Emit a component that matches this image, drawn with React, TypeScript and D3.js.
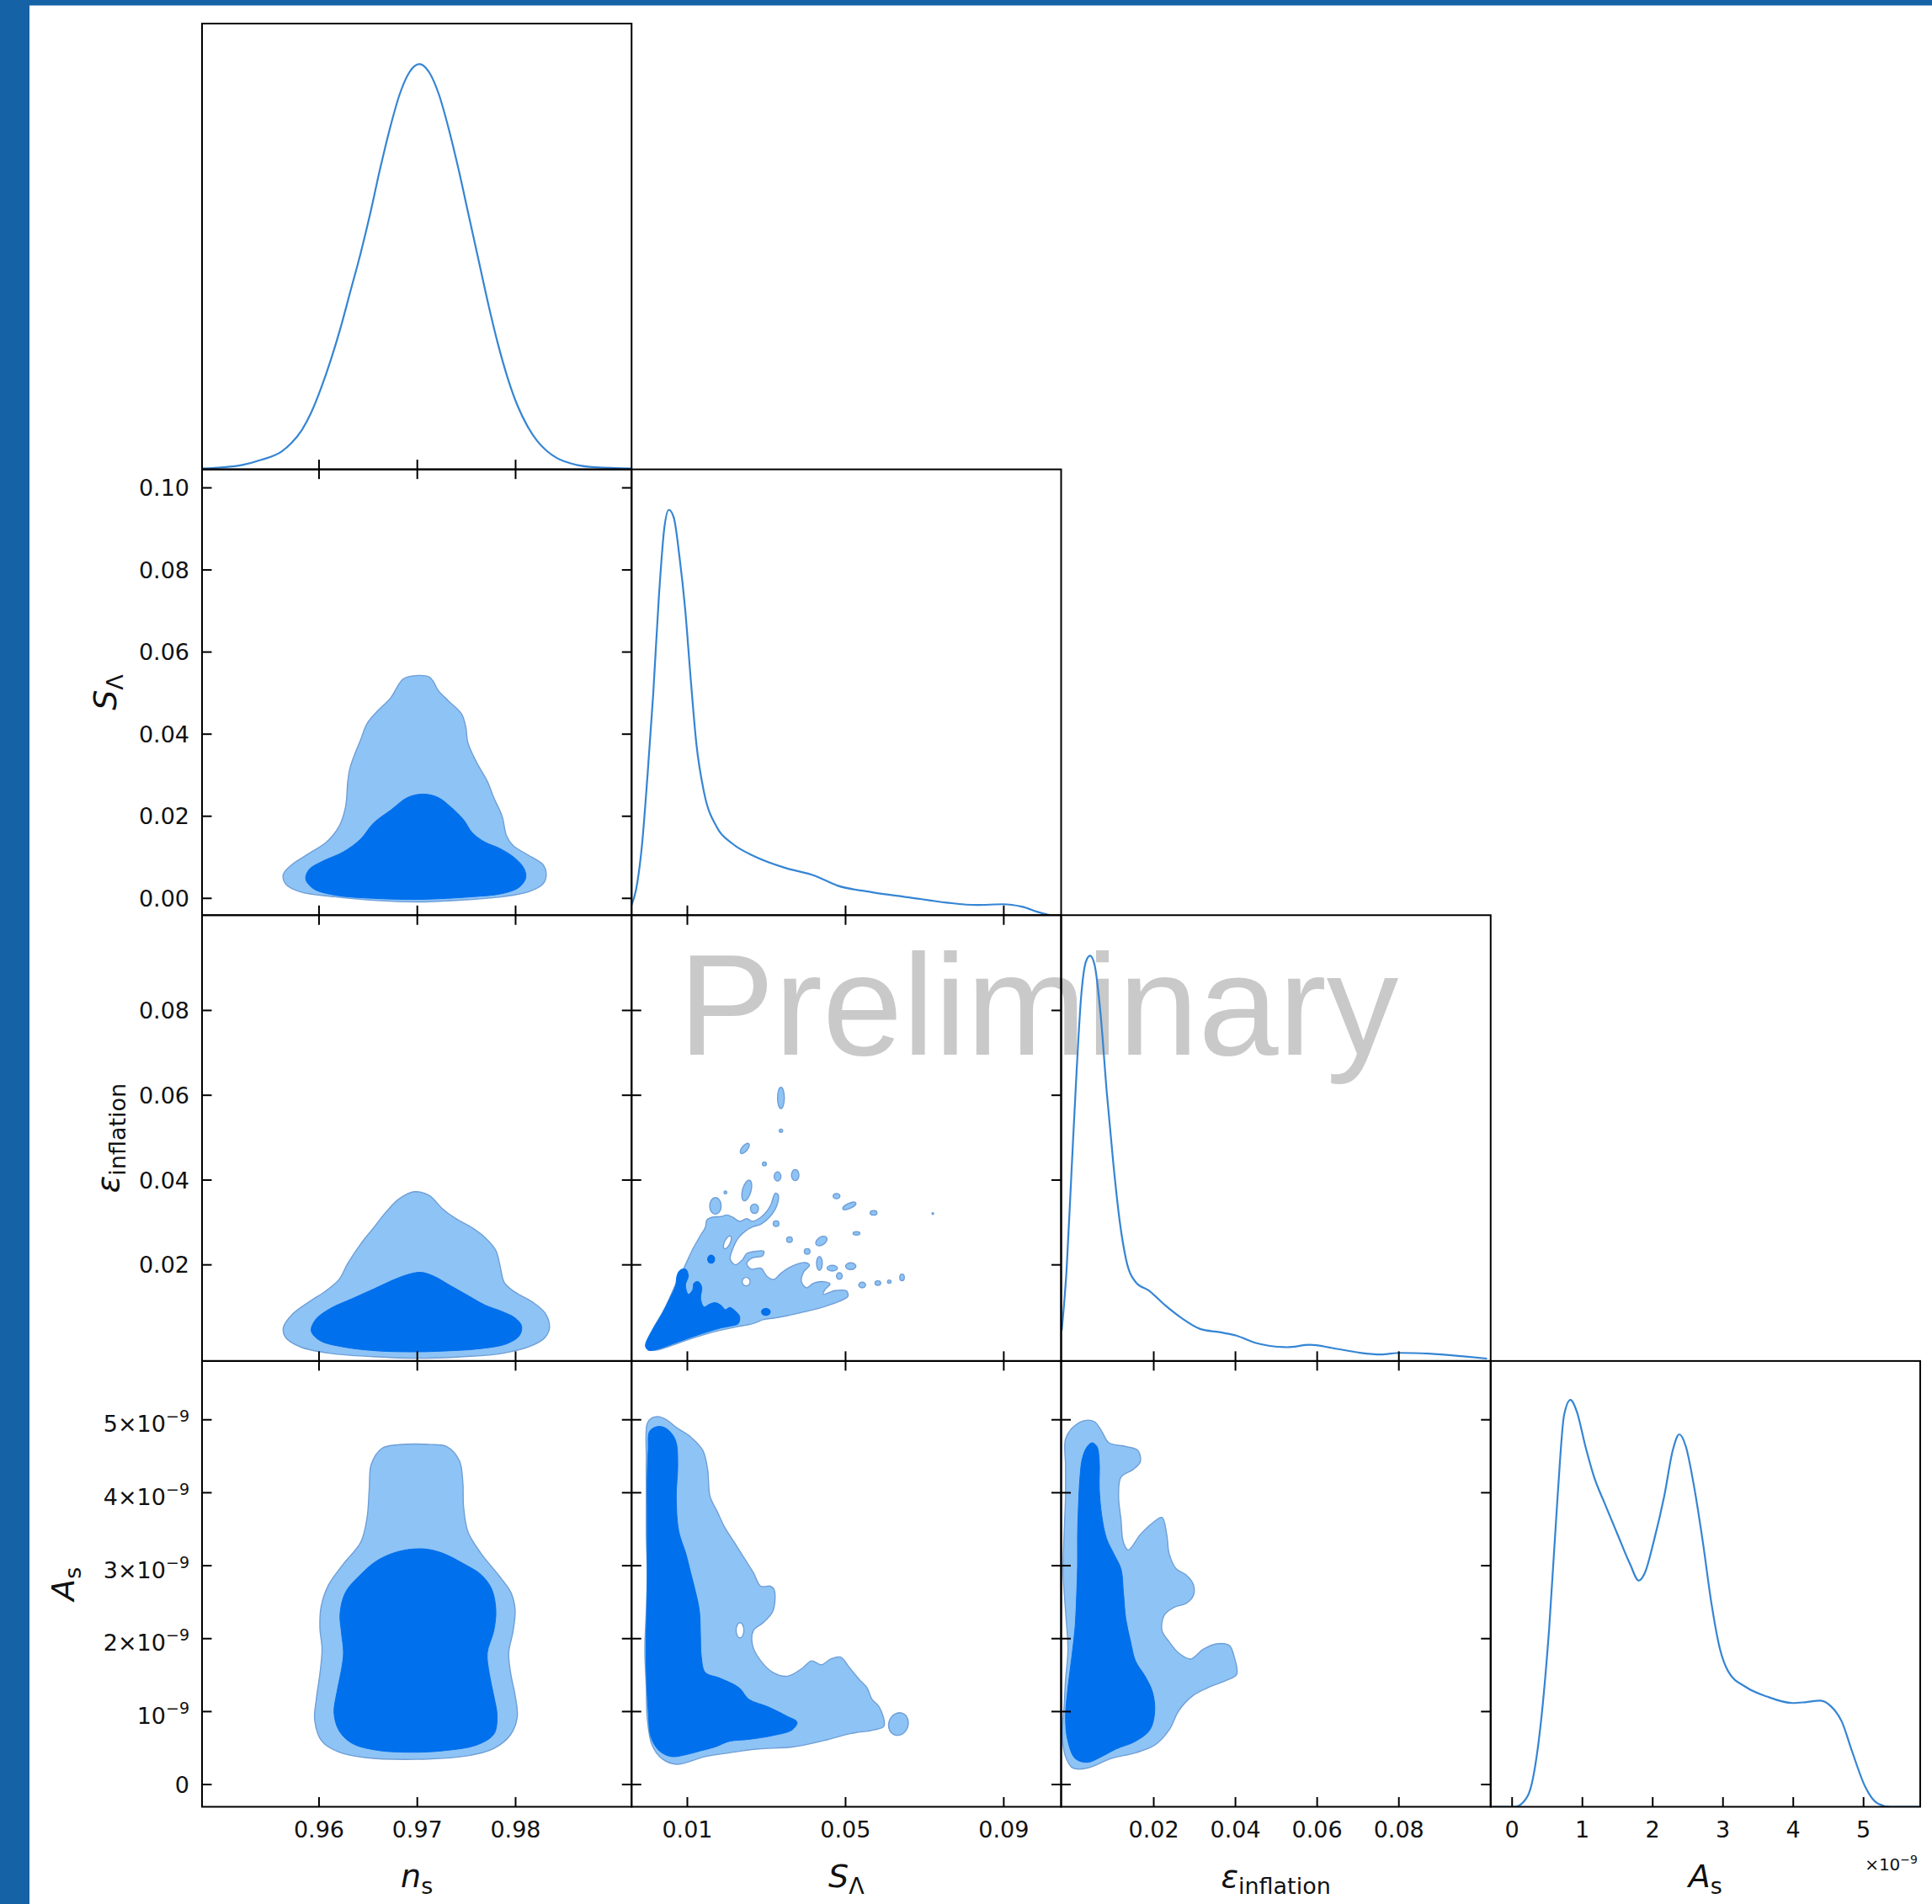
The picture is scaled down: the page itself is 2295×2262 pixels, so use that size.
import React from "react";
import * as d3 from "d3";

type Pt = [number, number];
type Blob = [number, number, number, number, number]; // cx, cy, rx, ry (data units), rotation (deg)

// ---------------- axes ----------------
const nsDomain: Pt = [0.9481, 0.9918];
const sLambdaDomain: Pt = [-0.0041, 0.1045];
const epsDomain: Pt = [-0.00267, 0.10247];
const asDomain: Pt = [-0.305, 5.806]; // in units of 1e-9
const densityDomain: Pt = [0, 1.1];

const nsTicks = [0.96, 0.97, 0.98];
const nsTickLabels = ["0.96", "0.97", "0.98"];
const sLambdaXTicks = [0.01, 0.05, 0.09];
const sLambdaXTickLabels = ["0.01", "0.05", "0.09"];
const sLambdaYTicks = [0, 0.02, 0.04, 0.06, 0.08, 0.1];
const sLambdaYTickLabels = ["0.00", "0.02", "0.04", "0.06", "0.08", "0.10"];
const epsTicks = [0.02, 0.04, 0.06, 0.08];
const epsTickLabels = ["0.02", "0.04", "0.06", "0.08"];
const asTicks = [0, 1, 2, 3, 4, 5];
const asXTickLabels = ["0", "1", "2", "3", "4", "5"];
const asYTickLabels = [
  { text: "0", exp: "" },
  { text: "10", exp: "\u22129" },
  { text: "2\u00d710", exp: "\u22129" },
  { text: "3\u00d710", exp: "\u22129" },
  { text: "4\u00d710", exp: "\u22129" },
  { text: "5\u00d710", exp: "\u22129" },
];
const paramLabels = [
  { main: "n", sub: "s" },
  { main: "S", sub: "\u039b" },
  { main: "\u03b5", sub: "inflation" },
  { main: "A", sub: "s" },
];
const watermark = "Preliminary";
const offsetText = { text: "\u00d710", exp: "\u22129" };

// ---------------- 1D marginals (x, normalised density) ----------------
const nsPdf: Pt[] = [
  [0.9481, 0.002], [0.9502, 0.005], [0.9522, 0.011], [0.9542, 0.024], [0.9562, 0.044],
  [0.9572, 0.065], [0.9582, 0.095], [0.9592, 0.14], [0.9602, 0.2], [0.9612, 0.27],
  [0.9622, 0.35], [0.9632, 0.44], [0.9642, 0.53], [0.9652, 0.63], [0.9662, 0.74],
  [0.9672, 0.84], [0.9682, 0.925], [0.9692, 0.98], [0.9702, 1.0], [0.9712, 0.98],
  [0.9722, 0.925], [0.9732, 0.84], [0.9742, 0.74], [0.9752, 0.63], [0.9762, 0.52],
  [0.9772, 0.41], [0.9782, 0.31], [0.9792, 0.225], [0.9802, 0.157], [0.9812, 0.107],
  [0.9822, 0.07], [0.9832, 0.045], [0.9842, 0.028], [0.9862, 0.011], [0.9882, 0.005],
  [0.9918, 0.002],
];
const sLambdaPdf: Pt[] = [
  [-0.00409, 0.025], [-0.00293, 0.065], [-0.00151, 0.169], [-0.00008, 0.344], [0.00135, 0.543],
  [0.00278, 0.782], [0.0042, 0.957], [0.00533, 1.0], [0.00657, 0.981], [0.008, 0.885],
  [0.00942, 0.758], [0.01085, 0.583], [0.01228, 0.423], [0.0142, 0.304], [0.01752, 0.216],
  [0.02132, 0.177], [0.02703, 0.145], [0.03464, 0.117], [0.04227, 0.097], [0.04795, 0.073],
  [0.05652, 0.057], [0.06605, 0.044], [0.07555, 0.031], [0.08316, 0.025], [0.08983, 0.027],
  [0.09458, 0.021], [0.09933, 0.006], [0.10219, 0.0], [0.1048, 0.0],
];
const epsPdf: Pt[] = [
  [-0.00252, 0.075], [-0.00133, 0.226], [-0.00015, 0.463], [0.00104, 0.7], [0.00222, 0.898],
  [0.00339, 0.985], [0.00442, 1.0], [0.00553, 0.977], [0.00696, 0.859], [0.00852, 0.661],
  [0.01011, 0.487], [0.01168, 0.344], [0.01326, 0.249], [0.01563, 0.194], [0.01878, 0.174],
  [0.02272, 0.138], [0.02666, 0.107], [0.03139, 0.079], [0.03613, 0.071], [0.04007, 0.063],
  [0.04481, 0.045], [0.05268, 0.034], [0.0582, 0.04], [0.06373, 0.032], [0.07003, 0.021],
  [0.07555, 0.016], [0.08029, 0.02], [0.08738, 0.018], [0.09527, 0.012], [0.10158, 0.006],
];
const asPdf: Pt[] = [
  [-0.318, 0.0], [0.04, 0.0], [0.162, 0.012], [0.283, 0.059], [0.405, 0.201], [0.526, 0.437],
  [0.648, 0.768], [0.739, 0.966], [0.83, 1.004], [0.921, 0.975], [1.042, 0.89], [1.164, 0.815],
  [1.316, 0.749], [1.498, 0.673], [1.68, 0.598], [1.802, 0.558], [1.893, 0.579], [2.014, 0.654],
  [2.166, 0.768], [2.288, 0.881], [2.379, 0.919], [2.47, 0.89], [2.592, 0.787], [2.713, 0.654],
  [2.835, 0.503], [2.956, 0.39], [3.078, 0.333], [3.321, 0.296], [3.625, 0.272], [3.989, 0.256],
  [4.171, 0.258], [4.384, 0.262], [4.536, 0.248], [4.688, 0.211], [4.84, 0.135], [5.022, 0.05],
  [5.204, 0.008], [5.386, 0.0], [5.811, 0.0],
];

// ---------------- 2D contours (68% and 95%) ----------------
const nsSL95: Pt[] = [
  [0.9686, 0.05351], [0.97012, 0.05431], [0.97122, 0.0539], [0.97166, 0.05274], [0.97209, 0.05078],
  [0.97319, 0.04804], [0.9745, 0.04492], [0.97493, 0.04179], [0.97515, 0.03789], [0.97602, 0.0332],
  [0.97712, 0.02852], [0.97777, 0.0246], [0.97864, 0.01992], [0.97908, 0.01523], [0.97974, 0.01288],
  [0.98127, 0.01056], [0.98279, 0.00821], [0.98312, 0.00586], [0.98279, 0.00351], [0.98127, 0.00155],
  [0.97864, 0.00039], [0.97471, -0.00039], [0.97012, -0.00088], [0.96555, -0.00049], [0.96162, 0.00039],
  [0.95812, 0.00155], [0.95659, 0.00351], [0.95637, 0.00586], [0.95724, 0.00821], [0.95899, 0.01094],
  [0.96074, 0.01368], [0.96205, 0.01757], [0.9627, 0.02227], [0.96293, 0.02852], [0.96314, 0.03164],
  [0.96358, 0.03477], [0.96424, 0.03867], [0.96489, 0.04259], [0.96598, 0.04571], [0.96729, 0.04884],
];
const nsSL68: Pt[] = [
  [0.96904, 0.0246], [0.97057, 0.0254], [0.97209, 0.0246], [0.9734, 0.02227], [0.97471, 0.01914],
  [0.97558, 0.01601], [0.97689, 0.01368], [0.97843, 0.01211], [0.97995, 0.00976], [0.98082, 0.00741],
  [0.98104, 0.00508], [0.98038, 0.00274], [0.97864, 0.00116], [0.97558, 0.00039], [0.97035, -0.00024],
  [0.96555, 0.0], [0.96162, 0.00078], [0.95943, 0.00235], [0.95865, 0.0047], [0.95899, 0.00702],
  [0.96031, 0.00898], [0.96249, 0.01133], [0.96424, 0.01445], [0.96555, 0.01835], [0.96729, 0.02148],
];
const nsEps95: Pt[] = [
  [0.96816, 0.03558], [0.96969, 0.03725], [0.97122, 0.03634], [0.97253, 0.0333], [0.97384, 0.03102],
  [0.97558, 0.02873], [0.97689, 0.02645], [0.97799, 0.02341], [0.97843, 0.01962], [0.97886, 0.01581],
  [0.97995, 0.01355], [0.9817, 0.01127], [0.98301, 0.00861], [0.98345, 0.00519], [0.98301, 0.00291],
  [0.9817, 0.001], [0.97864, -0.00088], [0.97471, -0.00166], [0.96991, -0.00203], [0.96555, -0.00166],
  [0.96118, -0.00088], [0.95812, 0.00063], [0.95659, 0.00291], [0.95637, 0.00519], [0.95724, 0.00823],
  [0.95899, 0.01127], [0.96074, 0.01393], [0.96205, 0.01659], [0.96293, 0.02038], [0.96424, 0.02494],
  [0.96555, 0.02873], [0.96685, 0.03253],
];
const nsEps68: Pt[] = [
  [0.96904, 0.01772], [0.97035, 0.01825], [0.97166, 0.01734], [0.9734, 0.01506], [0.97515, 0.01277],
  [0.97689, 0.01051], [0.97864, 0.00898], [0.97995, 0.00748], [0.98061, 0.00557], [0.98038, 0.00329],
  [0.97908, 0.00138], [0.97646, 0.00025], [0.97297, -0.00029], [0.96991, -0.0005], [0.96598, -0.00029],
  [0.96249, 0.00063], [0.96009, 0.00216], [0.95921, 0.00442], [0.95965, 0.00708], [0.96118, 0.00974],
  [0.96336, 0.01202], [0.96555, 0.0143], [0.96772, 0.01659],
];
const nsAs95: Pt[] = [
  [0.96642, 4.61], [0.96816, 4.659], [0.97166, 4.659], [0.97297, 4.634], [0.97428, 4.44],
  [0.97463, 4.147], [0.97471, 3.806], [0.97515, 3.465], [0.97646, 3.173], [0.97821, 2.88],
  [0.97951, 2.636], [0.97995, 2.393], [0.97974, 2.1], [0.9793, 1.808], [0.97951, 1.516],
  [0.97995, 1.223], [0.98017, 0.931], [0.97951, 0.687], [0.97777, 0.492], [0.97515, 0.395],
  [0.96991, 0.346], [0.96467, 0.37], [0.96205, 0.443], [0.96031, 0.59], [0.95956, 0.882],
  [0.95973, 1.174], [0.96009, 1.516], [0.96031, 1.857], [0.96009, 2.149], [0.96022, 2.442],
  [0.96096, 2.734], [0.96249, 3.026], [0.96424, 3.319], [0.96489, 3.66], [0.96511, 4.05],
  [0.96532, 4.391],
];
const nsAs68: Pt[] = [
  [0.96816, 3.197], [0.97057, 3.231], [0.97253, 3.173], [0.97471, 3.026], [0.97646, 2.88],
  [0.97755, 2.685], [0.97799, 2.393], [0.97777, 2.1], [0.97712, 1.808], [0.97733, 1.516],
  [0.97777, 1.223], [0.97812, 0.931], [0.97777, 0.687], [0.97602, 0.541], [0.97297, 0.468],
  [0.96991, 0.443], [0.96598, 0.468], [0.96336, 0.565], [0.96205, 0.736], [0.96153, 0.98],
  [0.96183, 1.272], [0.96227, 1.564], [0.96249, 1.808], [0.96227, 2.1], [0.96214, 2.344],
  [0.9627, 2.636], [0.96424, 2.88], [0.96598, 3.075],
];
const slEps95: Pt[] = [
  [-0.00055, 0.00083], [0.00125, 0.00479], [0.00413, 0.00943], [0.00737, 0.01604], [0.00917, 0.01935],
  [0.01133, 0.02365], [0.01313, 0.02663], [0.01457, 0.02894], [0.01493, 0.03059], [0.01638, 0.03126],
  [0.01854, 0.03139], [0.01998, 0.03178], [0.02142, 0.03126], [0.02322, 0.03026], [0.02502, 0.03093],
  [0.02646, 0.03026], [0.02862, 0.03126], [0.03006, 0.03258], [0.03114, 0.03423], [0.03222, 0.03688],
  [0.03294, 0.03655], [0.03258, 0.0339], [0.03078, 0.03126], [0.02862, 0.0296], [0.02646, 0.02894],
  [0.02466, 0.02795], [0.02286, 0.0263], [0.02156, 0.02398], [0.02084, 0.02133], [0.02214, 0.02001],
  [0.02394, 0.0212], [0.02502, 0.02266], [0.02718, 0.02319], [0.02934, 0.02319], [0.02898, 0.02213],
  [0.02646, 0.02167], [0.02502, 0.02034], [0.0261, 0.01902], [0.02862, 0.01922], [0.03006, 0.01737],
  [0.03186, 0.01657], [0.03367, 0.01803], [0.03547, 0.01922], [0.03727, 0.02001], [0.03979, 0.02054],
  [0.04087, 0.01988], [0.03943, 0.01836], [0.03885, 0.01604], [0.04015, 0.01459], [0.04195, 0.01571],
  [0.04447, 0.01604], [0.04606, 0.01551], [0.04483, 0.01419], [0.04433, 0.01307], [0.04735, 0.01393],
  [0.05023, 0.01386], [0.05059, 0.0126], [0.04843, 0.01141], [0.04447, 0.01009], [0.03943, 0.00889],
  [0.03511, 0.00797], [0.03186, 0.00744], [0.02934, 0.00711], [0.02646, 0.00612], [0.02214, 0.00533],
  [0.01638, 0.00414], [0.01061, 0.00248], [0.00557, 0.00083], [0.00125, -0.00016],
];
const slEps68: Pt[] = [
  [-0.00055, 0.00083], [0.00089, 0.00413], [0.00341, 0.00811], [0.00557, 0.01207], [0.00701, 0.01505],
  [0.00737, 0.01737], [0.00809, 0.01869], [0.00953, 0.01902], [0.01025, 0.01737], [0.00953, 0.01525],
  [0.01025, 0.01307], [0.01133, 0.01406], [0.01169, 0.01571], [0.01277, 0.01604], [0.01364, 0.01472],
  [0.01335, 0.01207], [0.01421, 0.01009], [0.01566, 0.01075], [0.0171, 0.01108], [0.01854, 0.01042],
  [0.01962, 0.00943], [0.0207, 0.00996], [0.02214, 0.0091], [0.02322, 0.00778], [0.02286, 0.00612],
  [0.02106, 0.00559], [0.01854, 0.00513], [0.01493, 0.00414], [0.01061, 0.00281], [0.00629, 0.00136],
  [0.00269, 0.00017], [0.00017, -0.00016],
];
const slEpsIslands95: Blob[] = [
  [0.03366, 0.05937, 0.00086, 0.00251, 0], [0.03366, 0.05163, 0.00043, 0.0004, 0],
  [0.02452, 0.04746, 0.00158, 0.00066, -50], [0.02948, 0.04382, 0.0005, 0.00046, 0],
  [0.0328, 0.04085, 0.00086, 0.00106, 0], [0.03727, 0.04118, 0.00094, 0.00132, 0],
  [0.01962, 0.03708, 0.00036, 0.00033, 0], [0.02502, 0.03754, 0.00108, 0.00251, 15],
  [0.0171, 0.0339, 0.00144, 0.00198, 0], [0.02697, 0.03324, 0.00101, 0.00112, 0],
  [0.04771, 0.03622, 0.00086, 0.0006, 0], [0.05095, 0.0339, 0.0018, 0.0006, -25],
  [0.05708, 0.03225, 0.00086, 0.00053, 0], [0.07206, 0.03211, 0.00022, 0.0002, 0],
  [0.03244, 0.02973, 0.00072, 0.00066, 0], [0.05276, 0.02742, 0.00086, 0.0004, 0],
  [0.03582, 0.02596, 0.00072, 0.00066, 0], [0.04389, 0.02563, 0.00158, 0.00093, -35],
  [0.04029, 0.02318, 0.00072, 0.00066, 0], [0.04339, 0.02034, 0.00072, 0.00165, 0],
  [0.04663, 0.01922, 0.0013, 0.00066, 0], [0.04843, 0.01737, 0.00072, 0.00079, 0],
  [0.05131, 0.01968, 0.0013, 0.00079, 0], [0.0542, 0.01525, 0.00086, 0.00066, 0],
  [0.05816, 0.01571, 0.00072, 0.00053, 0], [0.06104, 0.01604, 0.00043, 0.0004, 0],
  [0.06428, 0.01704, 0.00058, 0.00079, 0],
];
const slEpsIslands68: Blob[] = [
  [0.01602, 0.02133, 0.00086, 0.00093, 0], [0.02985, 0.0089, 0.00108, 0.00079, 0],
];
const slEpsHoles: Blob[] = [
  [0.02012, 0.0253, 0.00072, 0.00165, 25], [0.02487, 0.01604, 0.001, 0.001, 0],
];
const slAs95: Pt[] = [
  [-0.00014, 4.948], [0.00108, 5.026], [0.00292, 5.042], [0.00475, 5.0], [0.00719, 4.895],
  [0.01085, 4.764], [0.01391, 4.58], [0.01513, 4.318], [0.01574, 3.951], [0.01757, 3.741],
  [0.0194, 3.531], [0.02185, 3.321], [0.02429, 3.111], [0.02673, 2.901], [0.02856, 2.718],
  [0.03101, 2.718], [0.03198, 2.665], [0.03162, 2.377], [0.02918, 2.219], [0.02673, 2.114],
  [0.02649, 1.905], [0.02856, 1.695], [0.03162, 1.537], [0.03528, 1.485], [0.03895, 1.59],
  [0.04139, 1.695], [0.04383, 1.642], [0.04627, 1.721], [0.04872, 1.747], [0.05116, 1.59],
  [0.0536, 1.432], [0.05543, 1.327], [0.05666, 1.17], [0.05849, 1.065], [0.05971, 0.803],
  [0.05727, 0.75], [0.05116, 0.698], [0.04383, 0.593], [0.0365, 0.514], [0.02795, 0.488],
  [0.02063, 0.435], [0.01452, 0.383], [0.00719, 0.278], [0.00353, 0.357], [0.00108, 0.54],
  [-0.00014, 0.908], [-0.00038, 1.327], [-0.00075, 1.852], [-0.00038, 2.377], [-0.00014, 2.901],
  [-0.00038, 3.426], [-0.00038, 3.951], [-0.00038, 4.475],
];
const slAs68: Pt[] = [
  [0.00047, 4.843], [0.00231, 4.906], [0.00414, 4.895], [0.00597, 4.816], [0.00719, 4.685],
  [0.00756, 4.37], [0.00719, 3.951], [0.0078, 3.478], [0.00963, 3.164], [0.01085, 2.901],
  [0.01208, 2.639], [0.01305, 2.377], [0.0133, 2.062], [0.01354, 1.747], [0.01452, 1.537],
  [0.01818, 1.459], [0.02307, 1.327], [0.02551, 1.17], [0.0304, 1.065], [0.03528, 0.934],
  [0.03773, 0.855], [0.0365, 0.75], [0.03162, 0.672], [0.02551, 0.619], [0.02063, 0.593],
  [0.01696, 0.514], [0.0133, 0.462], [0.00963, 0.409], [0.00597, 0.383], [0.00292, 0.462],
  [0.00084, 0.645], [0.00011, 1.013], [-0.00038, 1.59], [-0.00038, 2.114], [-0.00014, 2.639],
  [-0.00014, 3.164], [-0.00014, 3.688], [-0.00014, 4.213], [0.00011, 4.58],
];
const slAsIslands95: Blob[] = [[0.06337, 0.829, 0.00244, 0.157, 20]];
const slAsHoles: Blob[] = [[0.02331, 2.114, 0.00098, 0.105, 0]];
const epsAs95: Pt[] = [
  [-0.00159, 4.738], [0.00018, 4.895], [0.00313, 4.99], [0.00549, 4.974], [0.00726, 4.843],
  [0.00903, 4.685], [0.01316, 4.633], [0.01611, 4.58], [0.0167, 4.423], [0.01493, 4.318],
  [0.01198, 4.213], [0.01139, 3.951], [0.01198, 3.636], [0.01257, 3.321], [0.01375, 3.216],
  [0.0167, 3.426], [0.01965, 3.583], [0.02201, 3.662], [0.02319, 3.426], [0.02378, 3.164],
  [0.02555, 2.954], [0.02791, 2.875], [0.02968, 2.744], [0.02968, 2.587], [0.02791, 2.482],
  [0.02496, 2.429], [0.0226, 2.324], [0.02201, 2.114], [0.02378, 1.957], [0.02614, 1.8],
  [0.02909, 1.721], [0.03204, 1.852], [0.03558, 1.931], [0.03853, 1.905], [0.03971, 1.747],
  [0.0403, 1.511], [0.03794, 1.432], [0.03322, 1.327], [0.02968, 1.222], [0.02614, 1.013],
  [0.02378, 0.75], [0.02024, 0.54], [0.01552, 0.435], [0.00962, 0.357], [0.00372, 0.226],
  [0.00018, 0.226], [-0.00159, 0.383], [-0.00242, 0.698], [-0.00195, 1.065], [-0.00159, 1.432],
  [-0.001, 1.852], [-0.00159, 2.377], [-0.00218, 2.901], [-0.00195, 3.426], [-0.00159, 3.951],
  [-0.00159, 4.37],
];
const epsAs68: Pt[] = [
  [0.00254, 4.475], [0.00372, 4.633], [0.0049, 4.685], [0.00608, 4.633], [0.00667, 4.423],
  [0.00667, 4.056], [0.00726, 3.688], [0.00844, 3.374], [0.01021, 3.164], [0.01198, 2.954],
  [0.01257, 2.639], [0.01316, 2.272], [0.01434, 1.957], [0.01552, 1.695], [0.01788, 1.485],
  [0.01965, 1.275], [0.02024, 1.013], [0.01906, 0.75], [0.01552, 0.593], [0.0108, 0.488],
  [0.00726, 0.383], [0.00372, 0.304], [0.00077, 0.357], [-0.001, 0.593], [-0.00159, 0.908],
  [-0.001, 1.327], [-0.00006, 1.747], [0.00077, 2.167], [0.00112, 2.587], [0.00136, 3.006],
  [0.00136, 3.426], [0.00159, 3.846], [0.00195, 4.213],
];

// ---------------- layout & style ----------------
const W = 2295;
const H = 2262;
const gridLeft = 240;
const gridRight = 2281;
const gridTop = 28;
const gridBottom = 2146.5;
const N = 4;
const cellW = (gridRight - gridLeft) / N;
const cellH = (gridBottom - gridTop) / N;
const FONT = "'DejaVu Sans', sans-serif";
const COL68 = "#0070ec";
const COL95 = "#8ec3f6";
const EDGE95 = "#6f9fd6";
const LINE1D = "#3585d4";
const TICK = 11.5;

const domains = [nsDomain, sLambdaDomain, epsDomain, asDomain];
const xTickSets = [nsTicks, sLambdaXTicks, epsTicks, asTicks];
const xTickLabelSets = [nsTickLabels, sLambdaXTickLabels, epsTickLabels, asXTickLabels];
const yTickSets = [nsTicks, sLambdaYTicks, epsTicks, asTicks];
const yTickLabelSets: any[] = [nsTickLabels, sLambdaYTickLabels, epsTickLabels, asYTickLabels];
const pdfs = [nsPdf, sLambdaPdf, epsPdf, asPdf];

const contourSets: Record<string, { c95: Pt[]; c68: Pt[]; isl95?: Blob[]; isl68?: Blob[]; holes?: Blob[] }> = {
  "1-0": { c95: nsSL95, c68: nsSL68 },
  "2-0": { c95: nsEps95, c68: nsEps68 },
  "3-0": { c95: nsAs95, c68: nsAs68 },
  "2-1": { c95: slEps95, c68: slEps68, isl95: slEpsIslands95, isl68: slEpsIslands68, holes: slEpsHoles },
  "3-1": { c95: slAs95, c68: slAs68, isl95: slAsIslands95, holes: slAsHoles },
  "3-2": { c95: epsAs95, c68: epsAs68 },
};

const xScaleFor = (c: number) =>
  d3.scaleLinear().domain(domains[c]).range([gridLeft + c * cellW, gridLeft + (c + 1) * cellW]);
const yScaleFor = (r: number) =>
  d3.scaleLinear().domain(domains[r]).range([gridTop + (r + 1) * cellH, gridTop + r * cellH]);
const densityScaleFor = (r: number) =>
  d3.scaleLinear().domain(densityDomain).range([gridTop + (r + 1) * cellH, gridTop + r * cellH]);

function Blobs({ blobs, xs, ys, fill, stroke }: any) {
  return (
    <g>
      {blobs.map((b: Blob, i: number) => {
        const cx = xs(b[0]);
        const cy = ys(b[1]);
        const rx = Math.abs(xs(b[0] + b[2]) - cx);
        const ry = Math.abs(ys(b[1] + b[3]) - cy);
        return (
          <ellipse key={i} cx={cx} cy={cy} rx={rx} ry={ry} transform={`rotate(${b[4]},${cx},${cy})`}
            fill={fill} stroke={stroke} strokeWidth={1.4} />
        );
      })}
    </g>
  );
}

function Panel2D({ r, c }: { r: number; c: number }) {
  const xs = xScaleFor(c);
  const ys = yScaleFor(r);
  const set = contourSets[`${r}-${c}`];
  const line = d3
    .line<Pt>()
    .x((d) => xs(d[0]))
    .y((d) => ys(d[1]))
    .curve(d3.curveCatmullRomClosed.alpha(0.5));
  return (
    <g clipPath={`url(#clip-${r}-${c})`}>
      <path d={line(set.c95) || ""} fill={COL95} stroke={EDGE95} strokeWidth={1.4} />
      {set.isl95 && <Blobs blobs={set.isl95} xs={xs} ys={ys} fill={COL95} stroke={EDGE95} />}
      {set.holes && <Blobs blobs={set.holes} xs={xs} ys={ys} fill="#ffffff" stroke={EDGE95} />}
      <path d={line(set.c68) || ""} fill={COL68} stroke={COL68} strokeWidth={1} />
      {set.isl68 && <Blobs blobs={set.isl68} xs={xs} ys={ys} fill={COL68} stroke={COL68} />}
    </g>
  );
}

function Panel1D({ i }: { i: number }) {
  const xs = xScaleFor(i);
  const ys = densityScaleFor(i);
  const line = d3
    .line<Pt>()
    .x((d) => xs(d[0]))
    .y((d) => ys(d[1]))
    .curve(d3.curveMonotoneX);
  return (
    <g clipPath={`url(#clip-${i}-${i})`}>
      <path d={line(pdfs[i]) || ""} fill="none" stroke={LINE1D} strokeWidth={2.2} />
    </g>
  );
}

function Frame({ r, c }: { r: number; c: number }) {
  const xs = xScaleFor(c);
  const ys = yScaleFor(r);
  const x0 = gridLeft + c * cellW;
  const x1 = x0 + cellW;
  const y0 = gridTop + r * cellH;
  const y1 = y0 + cellH;
  const ticks: JSX.Element[] = [];
  xTickSets[c].forEach((t, k) => {
    const x = xs(t);
    ticks.push(<line key={`b${k}`} x1={x} x2={x} y1={y1} y2={y1 - TICK} />);
    if (r !== c) ticks.push(<line key={`t${k}`} x1={x} x2={x} y1={y0} y2={y0 + TICK} />);
  });
  if (r !== c) {
    yTickSets[r].forEach((t, k) => {
      const y = ys(t);
      ticks.push(<line key={`l${k}`} x1={x0} x2={x0 + TICK} y1={y} y2={y} />);
      ticks.push(<line key={`r${k}`} x1={x1} x2={x1 - TICK} y1={y} y2={y} />);
    });
  }
  return (
    <g stroke="#000" strokeWidth={2}>
      {ticks}
      <rect x={x0} y={y0} width={cellW} height={cellH} fill="none" />
    </g>
  );
}

function AxisLabel({ i, x, y, rotate }: { i: number; x: number; y: number; rotate?: boolean }) {
  const lab = paramLabels[i];
  return (
    <text
      transform={rotate ? `translate(${x},${y}) rotate(-90)` : `translate(${x},${y})`}
      textAnchor="middle"
      fontFamily={FONT}
      fontSize={38}
      fill="#111"
    >
      <tspan fontStyle="italic">{lab.main}</tspan>
      <tspan fontSize={27} dy={8}>{lab.sub}</tspan>
    </text>
  );
}

export default function App() {
  const cells: { r: number; c: number }[] = [];
  for (let r = 0; r < N; r++) for (let c = 0; c <= r; c++) cells.push({ r, c });

  const xLabelX = [0, 1, 2, 3].map((c) => gridLeft + (c + 0.5) * cellW);
  const yLabelY = [0, 1, 2, 3].map((r) => gridTop + (r + 0.5) * cellH);
  const yLabelX = [0, 138, 141, 88];

  return (
    <svg
      width={W}
      height={H}
      viewBox={`0 0 ${W} ${H}`}
      style={{ position: "absolute", left: 0, top: 0, display: "block" }}
    >
      <defs>
        {cells.map(({ r, c }) => (
          <clipPath id={`clip-${r}-${c}`} key={`${r}-${c}`}>
            <rect x={gridLeft + c * cellW} y={gridTop + r * cellH} width={cellW} height={cellH} />
          </clipPath>
        ))}
      </defs>
      <rect x={0} y={0} width={W} height={H} fill="#1662a6" />
      <rect x={35} y={6.5} width={W - 35} height={H - 6.5} fill="#ffffff" />

      <text x={806} y={1253} fontFamily="'Liberation Sans', Arial, sans-serif" fontSize={171} fill="#c9c9c9">
        {watermark}
      </text>

      {cells.map(({ r, c }) =>
        r === c ? <Panel1D key={`p${r}${c}`} i={r} /> : <Panel2D key={`p${r}${c}`} r={r} c={c} />
      )}
      {cells.map(({ r, c }) => (
        <Frame key={`f${r}${c}`} r={r} c={c} />
      ))}

      {/* x tick labels (bottom row) */}
      {[0, 1, 2, 3].map((c) => {
        const xs = xScaleFor(c);
        return xTickSets[c].map((t, k) => (
          <text key={`xl${c}-${k}`} x={xs(t)} y={gridBottom + 36.5} textAnchor="middle" fontFamily={FONT}
            fontSize={27} fill="#111">
            {xTickLabelSets[c][k]}
          </text>
        ));
      })}
      {/* y tick labels (first column) */}
      {[1, 2, 3].map((r) => {
        const ys = yScaleFor(r);
        return yTickSets[r].map((t, k) => {
          const lab = yTickLabelSets[r][k];
          if (typeof lab === "string") {
            return (
              <text key={`yl${r}-${k}`} x={gridLeft - 15} y={ys(t)} dy="0.36em" textAnchor="end"
                fontFamily={FONT} fontSize={27} fill="#111">
                {lab}
              </text>
            );
          }
          return (
            <text key={`yl${r}-${k}`} x={gridLeft - 15} y={ys(t) + (lab.exp ? 14.5 : 9.7)} textAnchor="end"
              fontFamily={FONT} fontSize={27} fill="#111">
              {lab.text}
              {lab.exp && (
                <tspan fontSize={19} dy={-12}>
                  {lab.exp}
                </tspan>
              )}
            </text>
          );
        });
      })}

      {/* offset text for A_s axis */}
      <text x={2278} y={2222} textAnchor="end" fontFamily={FONT} fontSize={20} fill="#111">
        {offsetText.text}
        <tspan fontSize={14} dy={-8}>{offsetText.exp}</tspan>
      </text>

      {/* axis labels */}
      {[0, 1, 2, 3].map((c) => (
        <AxisLabel key={`xa${c}`} i={c} x={xLabelX[c]} y={2242} />
      ))}
      {[1, 2, 3].map((r) => (
        <AxisLabel key={`ya${r}`} i={r} x={yLabelX[r]} y={yLabelY[r]} rotate />
      ))}
    </svg>
  );
}
